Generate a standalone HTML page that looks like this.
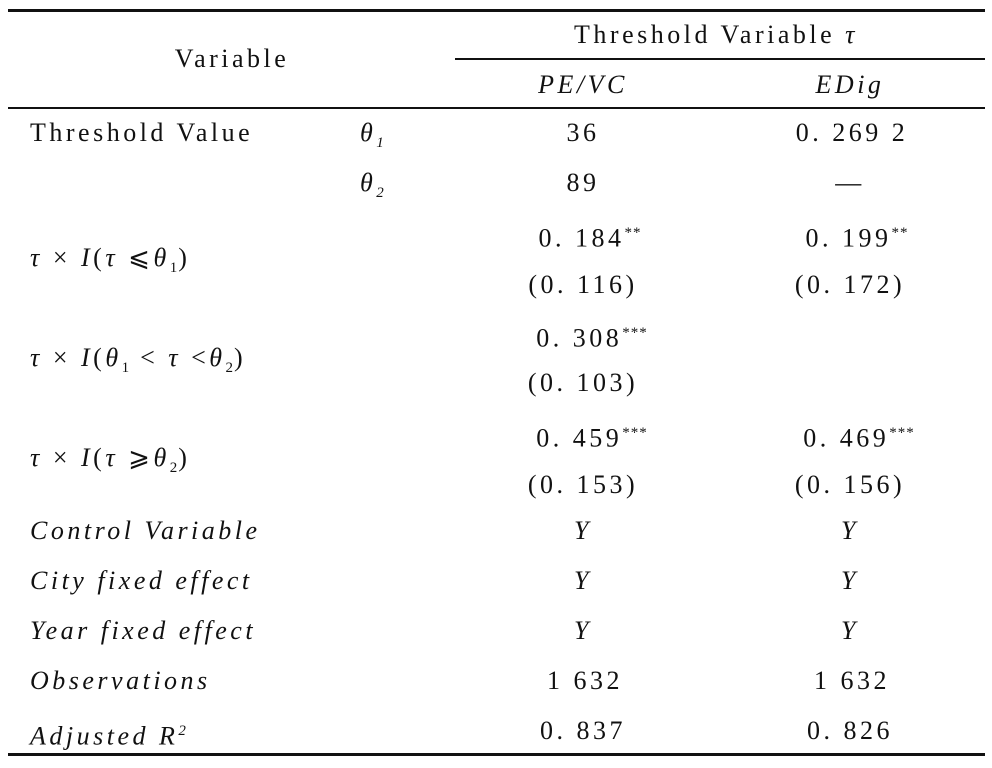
<!DOCTYPE html>
<html><head><meta charset="utf-8"><style>
body{margin:0;width:992px;height:768px;background:#fff;position:relative;font-family:"Liberation Serif","Noto Serif CJK SC",serif;color:#111;overflow:hidden}
.t{position:absolute;font-size:26px;line-height:30px;white-space:nowrap;letter-spacing:3.5px}
.c{transform:translateX(-50%)}
.i{font-style:italic}
.l{position:absolute;background:#111}
sup,sub{font-size:15px;letter-spacing:1px}
</style></head><body>
<div class="l" style="left:8px;top:9px;width:977px;height:3px"></div>
<div class="l" style="left:455px;top:58px;width:530px;height:1.5px"></div>
<div class="l" style="left:8px;top:107px;width:977px;height:1.5px"></div>
<div class="l" style="left:8px;top:753px;width:977px;height:3px"></div>

<div class="t c" style="left:232px;top:44px">Variable</div>
<div class="t c" style="left:716px;top:20px">Threshold Variable <i>τ</i></div>
<div class="t c i" style="left:583px;top:70px">PE/VC</div>
<div class="t c i" style="left:850px;top:70px">EDig</div>

<div class="t" style="left:30px;top:118px">Threshold Value</div>
<div class="t i" style="left:360px;top:118px">θ<sub>1</sub></div>
<div class="t c" style="left:583px;top:118px">36</div>
<div class="t c" style="left:852px;top:118px">0. 269 2</div>
<div class="t i" style="left:360px;top:168px">θ<sub>2</sub></div>
<div class="t c" style="left:583px;top:168px">89</div>
<div class="t c" style="left:850px;top:168px">—</div>

<div class="t" style="left:30px;top:243px"><i>τ</i> × <i>I</i>(<i>τ</i> ⩽<i>θ</i><sub>1</sub>)</div>
<div class="t c" style="left:590px;top:218px">0. 184<sup>**</sup></div>
<div class="t c" style="left:857px;top:218px">0. 199<sup>**</sup></div>
<div class="t c" style="left:583px;top:270px">(0. 116)</div>
<div class="t c" style="left:850px;top:270px">(0. 172)</div>

<div class="t" style="left:30px;top:343px"><i>τ</i> × <i>I</i>(<i>θ</i><sub>1</sub> &lt; <i>τ</i> &lt;<i>θ</i><sub>2</sub>)</div>
<div class="t c" style="left:592px;top:318px">0. 308<sup>***</sup></div>
<div class="t c" style="left:583px;top:368px">(0. 103)</div>

<div class="t" style="left:30px;top:443px"><i>τ</i> × <i>I</i>(<i>τ</i> ⩾<i>θ</i><sub>2</sub>)</div>
<div class="t c" style="left:592px;top:418px">0. 459<sup>***</sup></div>
<div class="t c" style="left:859px;top:418px">0. 469<sup>***</sup></div>
<div class="t c" style="left:583px;top:470px">(0. 153)</div>
<div class="t c" style="left:850px;top:470px">(0. 156)</div>

<div class="t i" style="left:30px;top:516px">Control Variable</div>
<div class="t c i" style="left:583px;top:516px">Y</div>
<div class="t c i" style="left:850px;top:516px">Y</div>
<div class="t i" style="left:30px;top:566px">City fixed effect</div>
<div class="t c i" style="left:583px;top:566px">Y</div>
<div class="t c i" style="left:850px;top:566px">Y</div>
<div class="t i" style="left:30px;top:616px">Year fixed effect</div>
<div class="t c i" style="left:583px;top:616px">Y</div>
<div class="t c i" style="left:850px;top:616px">Y</div>
<div class="t i" style="left:30px;top:666px">Observations</div>
<div class="t c" style="left:585px;top:666px">1 632</div>
<div class="t c" style="left:852px;top:666px">1 632</div>
<div class="t i" style="left:30px;top:716px">Adjusted R<sup>2</sup></div>
<div class="t c" style="left:583px;top:716px">0. 837</div>
<div class="t c" style="left:850px;top:716px">0. 826</div>
</body></html>
